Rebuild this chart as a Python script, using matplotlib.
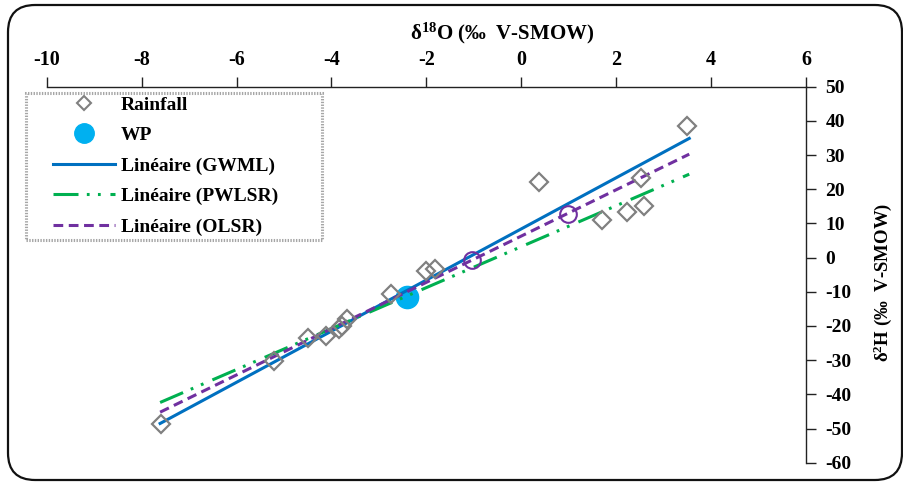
import matplotlib
matplotlib.use("Agg")
import matplotlib.pyplot as plt
import numpy as np
from matplotlib.patches import FancyBboxPatch, Rectangle
from matplotlib.lines import Line2D

plt.rcParams['font.family'] = ['Liberation Serif', 'DejaVu Serif']
plt.rcParams['font.weight'] = 'bold'
plt.rcParams['axes.unicode_minus'] = False
plt.rcParams['mathtext.fontset'] = 'custom'
plt.rcParams['mathtext.rm'] = 'Liberation Serif:bold'
plt.rcParams['mathtext.bf'] = 'Liberation Serif:bold'
plt.rcParams['mathtext.it'] = 'Liberation Serif:bold'
plt.rcParams['lines.scale_dashes'] = False

# Data
rain_d18o = [-7.59, -5.21, -4.49, -4.12, -3.85, -3.78, -3.67, -2.75, -2.00, -1.82,
             0.37, 1.70, 2.23, 2.52, 2.59, 3.50]
rain_d2h = [-48.7, -30.2, -23.5, -22.8, -20.9, -19.9, -17.9, -10.5, -3.8, -3.3,
            22.2, 11.0, 13.2, 23.2, 15.2, 38.6]
wp_d18o = [-2.40]
wp_d2h = [-11.4]
other_d18o = [-1.04, 0.98]
other_d2h = [-0.7, 12.8]

# Trend lines: slope, intercept
gwml = (7.48, 8.4)
pwlsr = (5.99, 3.2)
olsr = (6.77, 6.3)
line_x = [-7.61, 3.54]

xticks = [-10, -8, -6, -4, -2, 0, 2, 4, 6]
yticks = [50, 40, 30, 20, 10, 0, -10, -20, -30, -40, -50, -60]

fig = plt.figure(figsize=(9.04, 4.83), dpi=100)
W, H = 904, 483
ax = fig.add_axes([46.7 / W, 1 - 462.7 / H, (806 - 46.7) / W, (462.7 - 86.7) / H])

# Rounded frame
frame = FancyBboxPatch((8 / W, 3 / H), (902 - 8) / W, (480 - 5) / H,
                       boxstyle="round,pad=0,rounding_size=0.03",
                       transform=fig.transFigure, facecolor='none',
                       edgecolor='#111111', linewidth=1.6, mutation_aspect=W / H,
                       zorder=-1)
fig.patches.append(frame)

lx = np.array(line_x)
ax.plot(lx, gwml[0] * lx + gwml[1], color='#0070C0', lw=2.2, zorder=3,
        label='Linéaire (GWML)')
ax.plot(lx, pwlsr[0] * lx + pwlsr[1], color='#00B050', lw=2.2, zorder=3,
        dashes=(18, 6, 2, 6, 2, 7), label='Linéaire (PWLSR)')
ax.plot(lx, olsr[0] * lx + olsr[1], color='#7030A0', lw=2.2, zorder=3,
        dashes=(7, 4), label='Linéaire (OLSR)')

ax.plot(rain_d18o, rain_d2h, linestyle='none', marker='D', markersize=9.5,
        markerfacecolor='none', markeredgecolor='#808080', markeredgewidth=1.6,
        zorder=4, label='Rainfall')
ax.plot(wp_d18o, wp_d2h, linestyle='none', marker='o', markersize=16,
        markerfacecolor='#00B0F0', markeredgecolor='#00B0F0', zorder=2, label='WP')
ax.plot(other_d18o, other_d2h, linestyle='none', marker='o', markersize=12,
        markerfacecolor='none', markeredgecolor='#7030A0', markeredgewidth=1.5,
        zorder=4, label='_nolegend_')

ax.set_xlim(-10, 6)
ax.set_ylim(-60, 50)
ax.set_xticks(xticks)
ax.set_yticks(yticks)
ax.set_xticklabels([str(t) for t in xticks])
ax.set_yticklabels([str(t) for t in yticks])

for s in ['left', 'bottom']:
    ax.spines[s].set_visible(False)
for s in ['top', 'right']:
    ax.spines[s].set_linewidth(1.0)
    ax.spines[s].set_color('#222222')
ax.xaxis.tick_top()
ax.yaxis.tick_right()
ax.tick_params(axis='x', direction='out', length=7, width=1.0, labelsize=14.5, pad=5,
               colors='#222222', labelcolor='black')
ax.tick_params(axis='y', direction='out', length=7, width=1.0, labelsize=14, pad=7,
               colors='#222222', labelcolor='black')
for lab in ax.get_xticklabels() + ax.get_yticklabels():
    lab.set_fontweight('bold')
ax.patch.set_visible(False)

fig.text(502 / W, 1 - 33 / H, r'δ$^{18}$O (‰  V-SMOW)', ha='center', va='center',
         fontsize=15, fontweight='bold')
fig.text(883 / W, 1 - 282 / H, r'δ$^{2}$H (‰  V-SMOW)', ha='center', va='center',
         rotation=90, fontsize=13.5, fontweight='bold')

# Legend box (dotted frame)
box = Rectangle((26 / W, 1 - 240 / H), (322 - 26) / W, (240 - 93) / H,
                transform=fig.transFigure, facecolor='white', edgecolor='#A6A6A6',
                linewidth=2.2, linestyle=(0, (1, 1)), zorder=5)
fig.patches.append(box)

handles = [
    Line2D([], [], linestyle='none', marker='D', markersize=7.5, markerfacecolor='none',
           markeredgecolor='#808080', markeredgewidth=1.5),
    Line2D([], [], linestyle='none', marker='o', markersize=14,
           markerfacecolor='#00B0F0', markeredgecolor='#00B0F0'),
    Line2D([], [], color='#0070C0', lw=2.2),
    Line2D([], [], color='#00B050', lw=2.2, dashes=(18, 6, 2, 6, 2, 7)),
    Line2D([], [], color='#7030A0', lw=2.2, dashes=(7, 4)),
]
labels = ['Rainfall', 'WP', 'Linéaire (GWML)', 'Linéaire (PWLSR)', 'Linéaire (OLSR)']
leg = fig.legend(handles, labels, loc='upper left',
                 bbox_to_anchor=(53 / W, 1 - 96 / H), bbox_transform=fig.transFigure,
                 borderaxespad=0, prop={'weight': 'bold', 'size': 14},
                 handlelength=3.2, handletextpad=0.3, labelspacing=0.66,
                 borderpad=0.0, frameon=False)
leg.set_zorder(6)

fig.savefig('out.png', dpi=100)
